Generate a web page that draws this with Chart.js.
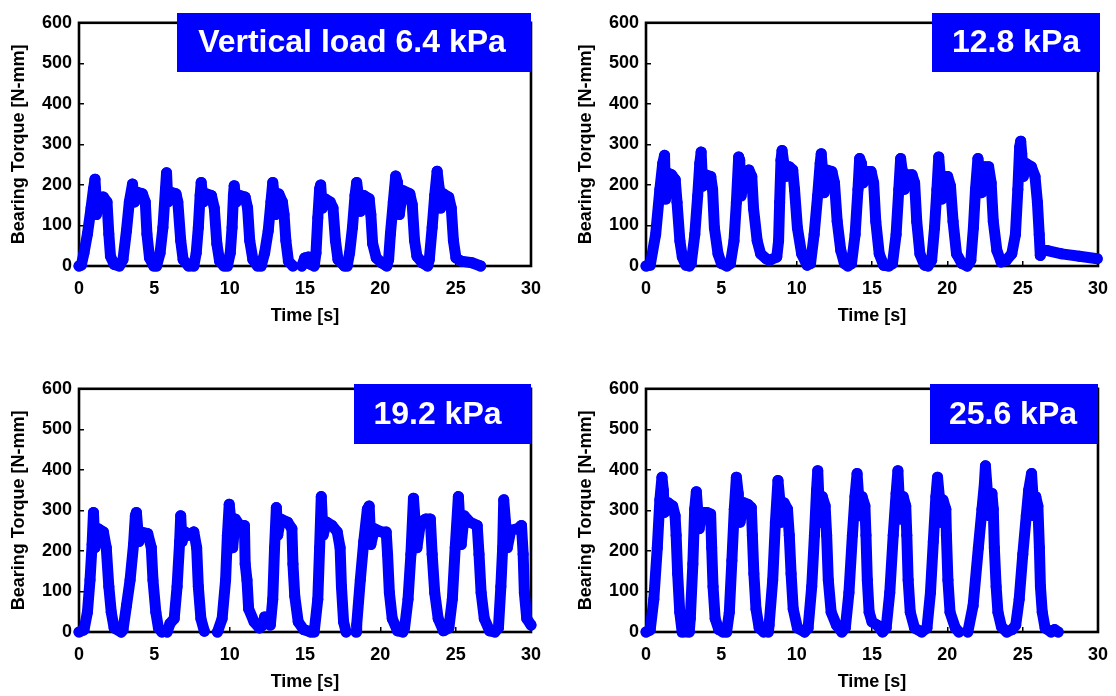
<!DOCTYPE html>
<html>
<head>
<meta charset="utf-8">
<title>Bearing torque under vertical load</title>
<script src="https://cdn.jsdelivr.net/npm/chart.js@4.4.0/dist/chart.umd.min.js"></script>
<style>
  body { margin: 0; background: #fff; width: 1116px; height: 696px; overflow: hidden; position: relative; }
  canvas { position: absolute; }
</style>
</head>
<body>
<canvas id="load64" width="558" height="330" style="left:0;top:0"></canvas>
<canvas id="load128" width="558" height="330" style="left:567px;top:0"></canvas>
<canvas id="load192" width="558" height="330" style="left:0;top:366px"></canvas>
<canvas id="load256" width="558" height="330" style="left:567px;top:366px"></canvas>
<script>
// [time s, torque N-mm]; null torque = no samples recorded there
const torque64 = [
  [0,0],[0.15,2],[0.33,32],[0.56,79],[0.8,143],[0.96,190],[1.06,214],[1.1,190],[1.15,127],[1.39,170],[1.62,170],[1.86,158],[1.98,79],[2.09,24],[2.33,4],[2.68,0],
  [2.92,16],[3.15,87],[3.34,158],[3.55,202],[3.69,158],[3.86,182],[4.21,178],[4.4,158],[4.51,79],[4.68,20],[4.96,0],[5.15,0],
  [5.38,32],[5.57,95],[5.74,190],[5.81,230],[5.9,158],[6.09,182],[6.44,178],[6.56,158],[6.75,63],[6.91,16],[7.27,0],[7.62,0],
  [7.78,32],[7.92,95],[8.04,174],[8.11,206],[8.25,158],[8.44,178],[8.79,174],[8.98,143],[9.15,55],[9.33,12],[9.62,0],[9.85,0],
  [10.04,32],[10.16,95],[10.25,174],[10.3,198],[10.44,158],[10.67,174],[11.03,170],[11.19,143],[11.33,63],[11.54,16],[11.85,0],[12.09,0],
  [12.32,32],[12.56,87],[12.74,158],[12.86,206],[12.96,174],[13.03,127],[13.26,178],[13.5,158],[13.61,127],[13.73,63],[13.9,12],[14.2,0],
  [14.5,null],
  [14.79,0],[14.98,20],[15.21,22],[15.38,4],[15.61,0],
  [15.73,32],[15.85,119],[15.97,190],[16.04,200],[16.15,143],[16.32,166],[16.67,158],[16.86,143],[17.02,63],[17.19,16],[17.61,0],[17.8,0],
  [17.96,32],[18.15,95],[18.32,174],[18.43,206],[18.55,174],[18.67,135],[18.9,174],[19.26,166],[19.37,127],[19.49,55],[19.73,20],[20.08,8],[20.43,0],
  [20.55,16],[20.67,79],[20.86,158],[21.02,222],[21.14,206],[21.26,127],[21.49,186],[21.96,178],[22.12,151],[22.27,63],[22.43,24],[22.78,8],[23.14,0],
  [23.25,16],[23.44,95],[23.61,174],[23.77,234],[23.91,190],[24.0,143],[24.19,178],[24.54,170],[24.71,143],[24.85,63],[25.02,20],[25.37,12],[26.08,8],[26.66,0]
];

const torque128 = [
  [0,0],[0.28,2],[0.64,78],[0.92,189],[1.11,253],[1.23,273],[1.3,165],[1.47,229],[1.7,225],[1.94,213],[2.06,157],[2.25,62],[2.41,22],[2.65,2],[2.88,0],
  [3.0,6],[3.24,78],[3.43,173],[3.57,253],[3.66,281],[3.76,197],[3.95,225],[4.3,221],[4.42,189],[4.54,94],[4.78,30],[5.01,6],[5.37,0],
  [5.6,6],[5.84,62],[6.0,157],[6.15,269],[6.22,261],[6.31,173],[6.55,221],[6.83,237],[7.02,221],[7.14,141],[7.38,62],[7.61,30],[7.97,18],[8.2,14],[8.68,22],
  [8.8,62],[8.87,157],[8.96,261],[9.03,285],[9.15,253],[9.27,221],[9.5,245],[9.74,237],[9.86,189],[10.05,94],[10.33,30],[10.69,2],
  [10.92,6],[11.16,78],[11.39,173],[11.56,253],[11.63,277],[11.75,221],[11.82,181],[11.99,237],[12.34,233],[12.51,205],[12.69,110],[12.93,38],[13.17,6],[13.4,0],
  [13.64,6],[13.88,78],[14.07,189],[14.18,265],[14.3,253],[14.4,205],[14.59,233],[14.94,233],[15.11,205],[15.25,110],[15.48,30],[15.77,2],[16.12,0],
  [16.36,6],[16.6,78],[16.78,189],[16.9,265],[17.0,237],[17.14,189],[17.3,225],[17.66,225],[17.83,205],[17.97,110],[18.18,30],[18.49,2],[18.72,0],
  [18.96,14],[19.15,94],[19.31,189],[19.43,269],[19.55,213],[19.62,165],[19.79,221],[20.02,221],[20.21,197],[20.38,110],[20.61,30],[20.97,6],[21.32,0],
  [21.56,14],[21.73,94],[21.87,189],[22.03,265],[22.15,237],[22.27,181],[22.5,245],[22.74,245],[22.91,205],[23.05,110],[23.29,38],[23.57,10],[23.92,14],[24.28,30],
  [24.52,78],[24.68,189],[24.8,293],[24.87,308],[24.94,277],[25.04,221],[25.22,253],[25.58,245],[25.82,221],[25.98,157],[26.1,78],[26.17,26],[26.3,40],
  [26.64,38],[27.59,30],[28.77,24],[29.95,18]
];

const torque192 = [
  [0,0],[0.33,5],[0.56,49],[0.73,128],[0.87,216],[0.96,295],[1.06,208],[1.27,255],[1.62,247],[1.81,208],[1.98,112],[2.14,49],[2.33,10],[2.8,0],
  [2.92,5],[3.15,65],[3.39,128],[3.62,216],[3.74,287],[3.81,295],[3.97,223],[4.09,247],[4.56,243],[4.8,208],[4.91,128],[5.1,49],[5.27,10],[5.5,0],
  [5.7,null],
  [5.85,0],[6.04,21],[6.32,33],[6.51,112],[6.68,223],[6.75,287],[6.84,223],[7.03,247],[7.27,239],[7.62,247],[7.81,208],[7.92,112],[8.09,33],[8.32,2],
  [8.8,null],
  [9.19,0],[9.5,33],[9.73,128],[9.85,239],[9.97,315],[10.09,271],[10.2,208],[10.37,279],[10.67,263],[10.98,263],[11.03,168],[11.15,128],[11.26,57],[11.62,25],[11.97,10],
  [12.2,17],[12.32,37],[12.6,37],[12.7,17],
  [12.86,81],[12.98,208],[13.1,307],[13.19,239],[13.38,279],[13.85,271],[14.13,255],[14.2,168],[14.32,89],[14.55,25],[14.91,6],[15.38,0],
  [15.61,0],[15.85,81],[15.97,208],[16.08,334],[16.15,279],[16.2,239],[16.44,271],[16.79,263],[17.14,247],[17.33,208],[17.42,112],[17.56,25],[17.73,0],
  [18.0,null],
  [18.39,0],[18.43,17],[18.67,128],[18.9,223],[19.14,303],[19.26,311],[19.37,216],[19.61,255],[20.08,247],[20.39,247],[20.48,192],[20.6,97],[20.79,33],[21.14,3],[21.49,0],
  [21.61,10],[21.84,81],[22.03,192],[22.2,330],[22.31,271],[22.43,208],[22.67,271],[23.02,279],[23.32,279],[23.44,192],[23.61,97],[23.84,33],[24.19,3],
  [24.55,10],[24.78,81],[24.97,208],[25.18,334],[25.28,271],[25.37,216],[25.56,287],[25.96,271],[26.43,263],[26.55,192],[26.69,97],[26.9,33],[27.25,3],[27.6,0],
  [27.84,10],[28.0,112],[28.12,208],[28.19,326],[28.31,271],[28.43,208],[28.66,251],[29.13,255],[29.37,263],[29.48,192],[29.56,97],[29.72,33],[30.0,17]
];

const torque256 = [
  [0,0],[0.28,5],[0.52,81],[0.75,208],[0.92,326],[1.06,382],[1.15,350],[1.22,295],[1.46,319],[1.77,311],[1.93,287],[2.0,239],[2.1,144],[2.24,49],[2.4,0],[2.87,0],
  [2.94,33],[3.11,168],[3.23,303],[3.34,346],[3.46,287],[3.53,255],[3.7,295],[4.05,295],[4.29,291],[4.36,208],[4.45,112],[4.59,33],[4.83,6],[5.11,0],
  [5.35,0],[5.53,49],[5.7,176],[5.86,303],[6.0,382],[6.12,342],[6.24,271],[6.48,319],[6.76,315],[6.99,307],[7.06,239],[7.16,144],[7.3,57],[7.51,10],[7.82,0],
  [7.95,null],
  [8.12,0],[8.17,17],[8.41,128],[8.59,271],[8.76,374],[8.88,326],[8.99,271],[9.16,319],[9.39,303],[9.51,239],[9.63,144],[9.77,57],[10.05,10],[10.53,0],
  [10.76,10],[11.0,112],[11.18,239],[11.32,350],[11.4,398],[11.47,334],[11.58,271],[11.7,334],[11.89,311],[11.99,239],[12.1,128],[12.29,49],[12.64,17],[13.0,0],
  [13.23,10],[13.47,97],[13.7,239],[13.87,334],[14.01,391],[14.1,342],[14.2,287],[14.34,334],[14.53,311],[14.6,239],[14.69,128],[14.81,49],[15.0,25],[15.35,17],[15.7,0],
  [15.94,10],[16.18,97],[16.41,239],[16.6,342],[16.72,398],[16.79,342],[16.88,279],[17.07,334],[17.24,311],[17.31,239],[17.4,128],[17.54,49],[17.82,10],[18.3,0],
  [18.65,10],[18.88,97],[19.07,223],[19.24,334],[19.35,382],[19.47,334],[19.54,271],[19.71,326],[19.9,303],[19.94,239],[20.04,128],[20.18,49],[20.53,10],[20.77,0],
  [21.05,null],
  [21.36,0],[21.71,65],[22.06,208],[22.3,303],[22.46,366],[22.53,410],[22.65,350],[22.77,287],[22.96,342],[23.05,303],[23.12,208],[23.24,112],[23.36,49],[23.59,13],[23.95,0],[24.3,6],
  [24.54,17],[24.77,81],[25.01,192],[25.24,287],[25.4,350],[25.59,391],[25.66,350],[25.73,287],[25.87,334],[26.01,311],[26.11,208],[26.18,112],[26.3,49],[26.49,10],[26.89,0],[27.12,6],[27.36,0]
];

const loadLabels = ['Vertical load 6.4 kPa', '12.8 kPa', '19.2 kPa', '25.6 kPa'];
const xTicks = [0, 5, 10, 15, 20, 25, 30];
const yTicks = [0, 100, 200, 300, 400, 500, 600];

const BLUE = '#0000ff';
const FONT = "'Liberation Sans', Arial, sans-serif";
Chart.defaults.font.family = FONT;
Chart.defaults.color = '#000';

// black box around the plot area, under the data
const framePlugin = {
  id: 'frame',
  beforeDatasetsDraw(chart) {
    const { ctx, chartArea: a } = chart;
    ctx.save();
    ctx.strokeStyle = '#000';
    ctx.lineWidth = 2.6;
    ctx.strokeRect(a.left, a.top, a.right - a.left, a.bottom - a.top);
    ctx.restore();
  }
};

// blue label box with the load value
const tagPlugin = {
  id: 'loadTag',
  afterDatasetsDraw(chart, args, opts) {
    const { ctx } = chart;
    ctx.save();
    ctx.fillStyle = BLUE;
    ctx.fillRect(opts.x, opts.y, opts.w, opts.h);
    ctx.fillStyle = '#fff';
    ctx.font = 'bold 32px ' + FONT;
    ctx.textAlign = 'center';
    ctx.textBaseline = 'middle';
    ctx.fillText(opts.text, opts.x + opts.w / 2 + (opts.dx || 0), opts.y + opts.h / 2 + 1);
    ctx.restore();
  }
};

function axisStyle(ticks, min, max) {
  return {
    type: 'linear', min, max,
    afterBuildTicks: s => { s.ticks = ticks.map(v => ({ value: v })); },
    grid: { drawOnChartArea: false, drawTicks: true, tickLength: -5, color: '#000', lineWidth: 1.5 },
    border: { display: false }
  };
}

function createPanel(canvasId, series, text, tag) {
  const x = axisStyle(xTicks, 0, 30);
  x.ticks = { padding: 17, color: '#000', font: { size: 18, weight: 'bold' }, maxRotation: 0 };
  x.title = { display: true, text: 'Time [s]', color: '#000', font: { size: 18, weight: 'bold' }, padding: { top: 0, bottom: 3 } };
  x.afterFit = s => { s.height = 64; };

  const y = axisStyle(yTicks, 0, 600);
  y.ticks = { padding: 12, color: '#000', font: { size: 18, weight: 'bold' } };
  y.title = { display: true, text: 'Bearing Torque [N-mm]', color: '#000', font: { size: 18, weight: 'bold' }, padding: { top: 8, bottom: 0 } };
  y.afterFit = s => { s.width = 79; };

  return new Chart(document.getElementById(canvasId), {
    type: 'scatter',
    data: {
      datasets: [{
        data: series.map(([t, v]) => ({ x: t, y: v })),
        showLine: true, spanGaps: false,
        borderColor: BLUE, backgroundColor: BLUE,
        borderWidth: 11, borderCapStyle: 'round', borderJoinStyle: 'round',
        pointRadius: 5.5, pointBorderWidth: 0, pointHoverRadius: 5.5,
        clip: false
      }]
    },
    options: {
      responsive: false, animation: false, devicePixelRatio: 1,
      layout: { padding: { top: 15, right: 24, bottom: 0, left: 0 } },
      plugins: {
        legend: { display: false }, tooltip: { enabled: false },
        loadTag: Object.assign({ text }, tag)
      },
      scales: { x, y }
    },
    plugins: [framePlugin, tagPlugin]
  });
}

createPanel('load64', torque64, loadLabels[0], { x: 177, y: 13, w: 354, h: 59, dx: -2 });
createPanel('load128', torque128, loadLabels[1], { x: 365, y: 13, w: 168, h: 59 });
createPanel('load192', torque192, loadLabels[2], { x: 354, y: 18, w: 177, h: 60, dx: -5 });
createPanel('load256', torque256, loadLabels[3], { x: 363, y: 18, w: 168, h: 60, dx: -1 });
</script>
</body>
</html>
